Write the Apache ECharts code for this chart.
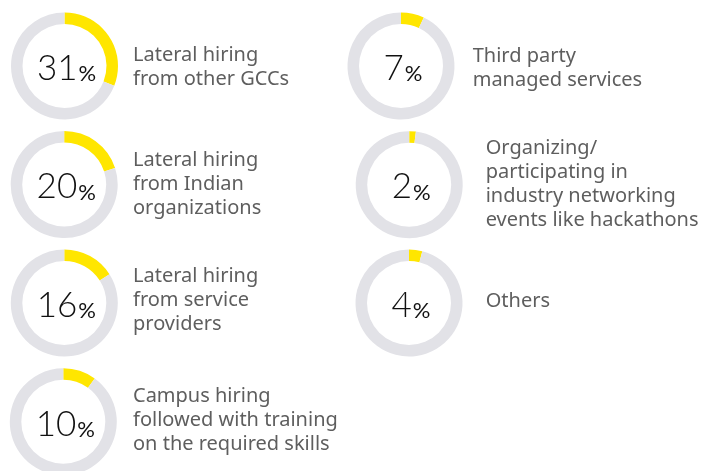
<!DOCTYPE html>
<html>
<head>
<meta charset="utf-8">
<script src="https://cdn.jsdelivr.net/npm/echarts@6/dist/echarts.min.js"></script>
<style>
  html, body { margin: 0; padding: 0; background: #fff; }
  #chart { width: 707px; height: 471px; }
</style>
</head>
<body>
<div id="chart"></div>
<script>
// share of respondents per talent source (%)
const shares = [31, 20, 16, 10, 7, 2, 4];
const sources = [
  "Lateral hiring\nfrom other GCCs",
  "Lateral hiring\nfrom Indian\norganizations",
  "Lateral hiring\nfrom service\nproviders",
  "Campus hiring\nfollowed with training\non the required skills",
  "Third party\nmanaged services",
  "Organizing/\nparticipating in\nindustry networking\nevents like hackathons",
  "Others",
];

// layout: donut centre and text block origin for each item
const slots = [
  { cx: 64.5, cy: 66, tx: 133, ty: 43 },
  { cx: 64.2, cy: 184.5, tx: 133, ty: 148.5 },
  { cx: 64.3, cy: 303, tx: 133, ty: 264 },
  { cx: 63.3, cy: 421.8, tx: 133, ty: 384 },
  { cx: 401, cy: 66, tx: 472.7, ty: 44 },
  { cx: 409.2, cy: 184.7, tx: 485.7, ty: 136 },
  { cx: 409, cy: 303, tx: 485.7, ty: 289.5 },
];

const YELLOW = "#ffe600";
const RING = "#e2e2e7";

const chart = echarts.init(document.getElementById("chart"), null, { renderer: "canvas" });

const series = shares.map((v, i) => ({
  type: "pie",
  silent: true,
  animation: false,
  center: [slots[i].cx, slots[i].cy],
  radius: [42, 53.5],
  startAngle: 90,
  clockwise: true,
  labelLine: { show: false },
  emphasis: { disabled: true },
  data: [
    {
      value: v,
      itemStyle: { color: YELLOW },
      label: {
        show: true,
        position: "center",
        formatter: "{n|" + v + "}{p|%}",
        padding: [0, 0, 0, 4],
        rich: {
          n: { fontFamily: "Lato", fontWeight: 300, fontSize: 35, color: "#111", verticalAlign: "bottom", lineHeight: 40 },
          p: { fontFamily: "Lato", fontWeight: "normal", fontSize: 22, color: "#111", verticalAlign: "bottom", lineHeight: 40, padding: [0, 0, 1, 1] },
        },
      },
    },
    { value: 100 - v, itemStyle: { color: RING }, label: { show: false } },
  ],
}));

const title = sources.map((t, i) => ({
  text: t,
  left: slots[i].tx,
  top: slots[i].ty,
  padding: 0,
  textStyle: {
    fontFamily: "Noto Sans",
    fontWeight: "normal",
    fontSize: 20,
    lineHeight: 24,
    color: "#5e5e5e",
  },
}));

chart.setOption({
  backgroundColor: "#ffffff",
  title: title,
  series: series,
});
</script>
</body>
</html>
